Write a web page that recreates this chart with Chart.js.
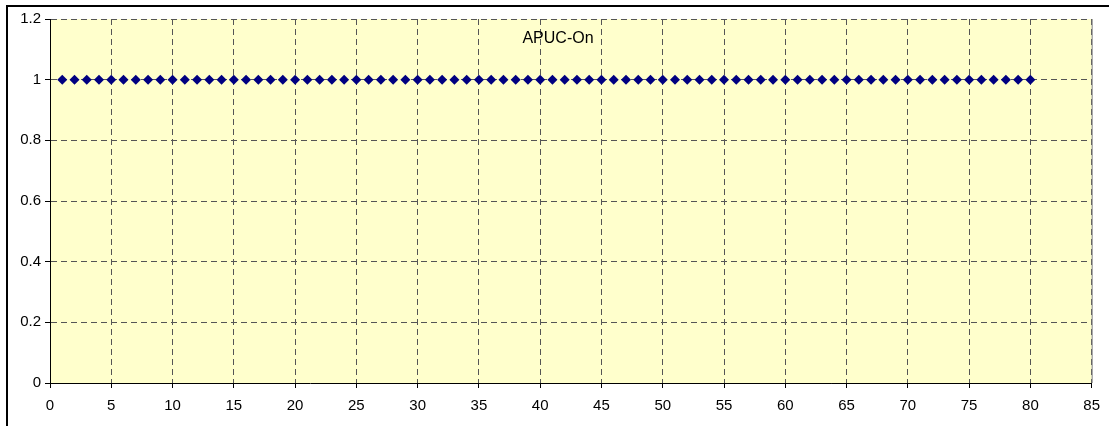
<!DOCTYPE html>
<html>
<head>
<meta charset="utf-8">
<script src="https://cdn.jsdelivr.net/npm/chart.js@4/dist/chart.umd.min.js"></script>
<style>
  html, body { margin: 0; padding: 0; background: #fff; }
  #wrap { width: 1109px; height: 426px; }
</style>
</head>
<body>
<div id="wrap"><canvas id="chart"></canvas></div>
<script>
// series data
const titleText = 'APUC-On';
const xValues = [1, 2, 3, 4, 5, 6, 7, 8, 9, 10,
  11, 12, 13, 14, 15, 16, 17, 18, 19, 20,
  21, 22, 23, 24, 25, 26, 27, 28, 29, 30,
  31, 32, 33, 34, 35, 36, 37, 38, 39, 40,
  41, 42, 43, 44, 45, 46, 47, 48, 49, 50,
  51, 52, 53, 54, 55, 56, 57, 58, 59, 60,
  61, 62, 63, 64, 65, 66, 67, 68, 69, 70,
  71, 72, 73, 74, 75, 76, 77, 78, 79, 80];
const yValues = [1, 1, 1, 1, 1, 1, 1, 1, 1, 1,
  1, 1, 1, 1, 1, 1, 1, 1, 1, 1,
  1, 1, 1, 1, 1, 1, 1, 1, 1, 1,
  1, 1, 1, 1, 1, 1, 1, 1, 1, 1,
  1, 1, 1, 1, 1, 1, 1, 1, 1, 1,
  1, 1, 1, 1, 1, 1, 1, 1, 1, 1,
  1, 1, 1, 1, 1, 1, 1, 1, 1, 1,
  1, 1, 1, 1, 1, 1, 1, 1, 1, 1];
const xTicks = { min: 0, max: 85, step: 5 };
const yTicks = { min: 0, max: 1.2, step: 0.2 };

const points = xValues.map((x, i) => ({ x: x, y: yValues[i] }));

const fontFamily = "Arial, 'Liberation Sans', sans-serif";

// yellow plot background, gray right edge, outer frame and inside title
const excelLook = {
    id: 'excelLook',
    beforeDraw(chart) {
        const ctx = chart.ctx;
        const a = chart.chartArea;
        ctx.save();
        ctx.fillStyle = '#ffffcc';
        ctx.fillRect(a.left, a.top, a.right - a.left, a.bottom - a.top);
        ctx.restore();
    },
    afterDraw(chart) {
        const ctx = chart.ctx;
        const a = chart.chartArea;
        ctx.save();
        ctx.strokeStyle = '#808080';
        ctx.lineWidth = 1;
        ctx.beginPath();
        ctx.moveTo(a.right + 0.5, a.top);
        ctx.lineTo(a.right + 0.5, a.bottom);
        ctx.stroke();

        ctx.strokeStyle = '#000';
        ctx.lineWidth = 2;
        ctx.beginPath();
        ctx.moveTo(7, chart.height + 5);
        ctx.lineTo(7, 6);
        ctx.lineTo(chart.width + 5, 6);
        ctx.stroke();

        ctx.fillStyle = '#000';
        ctx.font = '16px ' + fontFamily;
        ctx.textAlign = 'center';
        ctx.textBaseline = 'middle';
        ctx.fillText(titleText, 558, 39);
        ctx.restore();
    }
};

const gridStyle = {
    color: '#555555',
    tickColor: '#000',
    tickLength: 5,
    lineWidth: 1
};

new Chart(document.getElementById('chart'), {
    type: 'scatter',
    data: {
        datasets: [
            {
                label: titleText,
                data: points,
                pointStyle: 'rectRot',
                pointRadius: 5,
                pointHoverRadius: 5,
                backgroundColor: '#000080',
                borderColor: '#000080',
                borderWidth: 0,
                showLine: false
            }
        ]
    },
    options: {
        responsive: true,
        maintainAspectRatio: false,
        animation: false,
        layout: { padding: { left: 0, right: 14, top: 19, bottom: 0 } },
        plugins: {
            legend: { display: false },
            title: { display: false },
            tooltip: { enabled: false }
        },
        scales: {
            x: {
                type: 'linear',
                min: xTicks.min,
                max: xTicks.max,
                afterFit(scale) { scale.height = 43; },
                ticks: {
                    stepSize: xTicks.step,
                    color: '#000',
                    padding: 9,
                    maxRotation: 0,
                    font: { family: fontFamily, size: 15 }
                },
                grid: gridStyle,
                border: { color: '#000', width: 1, dash: [6, 4] }
            },
            y: {
                type: 'linear',
                min: yTicks.min,
                max: yTicks.max,
                afterFit(scale) { scale.width = 50; },
                ticks: {
                    stepSize: yTicks.step,
                    color: '#000',
                    padding: 4,
                    font: { family: fontFamily, size: 15 },
                    callback: (v) => String(Math.round(v * 10) / 10)
                },
                grid: gridStyle,
                border: { color: '#000', width: 1, dash: [6, 4] }
            }
        }
    },
    plugins: [excelLook]
});
</script>
</body>
</html>
